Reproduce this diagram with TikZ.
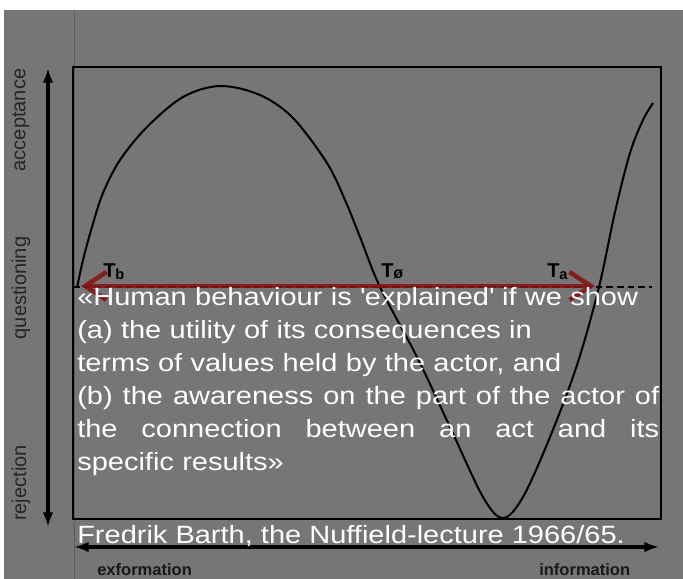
\documentclass[tikz,border=0pt]{standalone}
\usepackage{fontspec}
\setmainfont{Liberation Sans}
\newfontfamily\quotefont[FakeStretch=1.16]{Liberation Sans}
\usepackage{xcolor}
\usetikzlibrary{arrows.meta, positioning}

\definecolor{slidegray}{RGB}{118,118,118}
\definecolor{rulegray}{RGB}{92,92,92}
\definecolor{barbred}{RGB}{135,20,20}

% a line of the quotation spread over the full width
\newcommand{\justline}[1]{\makebox[436.5pt][s]{\spaceskip=0.28em plus 1fil\relax #1}}

\begin{document}
\begin{tikzpicture}[x=0.75pt, y=-0.75pt,
    axisarrow/.style={line width=2.5pt, {Latex[length=11pt,width=8pt]}-{Latex[length=11pt,width=8pt]}},
    sidelabel/.style={font=\fontsize{15}{16}\selectfont, text=black!85, inner sep=0pt, rotate=90},
    flowlabel/.style={font=\fontsize{12.4}{14}\selectfont\bfseries, text=black!90, inner sep=0pt, anchor=base west},
    tlabel/.style={font=\fontsize{15}{16}\selectfont\bfseries, inner sep=0pt, anchor=base west},
    quotebox/.style={font=\quotefont\fontsize{18.75}{24.75}\selectfont, text=white, inner sep=0pt, anchor=base west},
    barb/.style={draw=barbred, opacity=0.88, line width=3.4pt, {Straight Barb[length=16pt,width=21pt]}-{Straight Barb[length=16pt,width=21pt]}}
]
    \useasboundingbox (0,0) rectangle (683,579);
    % slide background
    \fill[white] (0,0) rectangle (683,579);
    \fill[slidegray] (4,10) rectangle (683,579);
    \draw[rulegray, line width=0.6pt] (74,10) -- (74,579);

    % frame and zero line
    \draw[line width=1.5pt] (73,67) rectangle (661,519);
    \coordinate (zleft) at (73,287);
    \coordinate (zright) at (652,287);
    \draw[line width=2.2pt, dash pattern=on 5pt off 3pt] (zleft) -- (zright);

    % the wave
    \draw[line width=1.5pt] plot[smooth, tension=0.55] coordinates {
        (77,288) (83,260) (92,227) (103,193) (120,160) (147,127) (183,97)
        (220,86) (260,95) (293,118) (327,163) (345,200) (360,237) (380,287)
        (417,357) (450,427) (483,497) (503,518) (523,497) (550,437)
        (577,365) (599,287) (615,212) (630,153) (643,120) (653,103)};

    % axes
    \coordinate (ytop) at (48,68);
    \coordinate (ybot) at (48,527);
    \draw[axisarrow] (ybot) -- (ytop);
    \node[sidelabel] (accept) at (21,120) {acceptance};
    \node[sidelabel] (question) at (21,288) {questioning};
    \node[sidelabel] (reject) at (21,483) {rejection};

    \coordinate (xleft) at (74,547);
    \coordinate (xright) at (659,547);
    \draw[axisarrow, line width=3pt] (xleft) -- (xright);
    \node[flowlabel] (exform) at (97,575) {exformation};
    \node[flowlabel] (inform) at (539,575) {information};

    % red time arrow
    \coordinate (tbpoint) at (81,286);
    \coordinate (tapoint) at (595,286);
    \draw[barb] (tbpoint) -- (tapoint);
    \node[tlabel] (tb) at (103,277) {T\raisebox{-2pt}{\fontsize{11}{10}\selectfont b}};
    \node[tlabel] (t0) at (381,277) {T\raisebox{-1pt}{\fontsize{12}{10}\selectfont ø}};
    \node[tlabel] (ta) at (547,277) {T\raisebox{-2pt}{\fontsize{11}{10}\selectfont a}};

    % quotation
    \node[quotebox, text width=436.5pt, align=left] (barthquote) at (77,305) {%
        «Human behaviour is \textquotesingle explained\textquotesingle{} if we show\\
        (a) the utility of its consequences in\\
        terms of values held by the actor, and\\
        \justline{(b) the awareness on the part of the actor of}\\
        \justline{the connection between an act and its}\\
        specific results»};
    \node[quotebox] (source) at (77,543) {Fredrik Barth, the Nuffield-lecture 1966/65.};
\end{tikzpicture}
\end{document}
